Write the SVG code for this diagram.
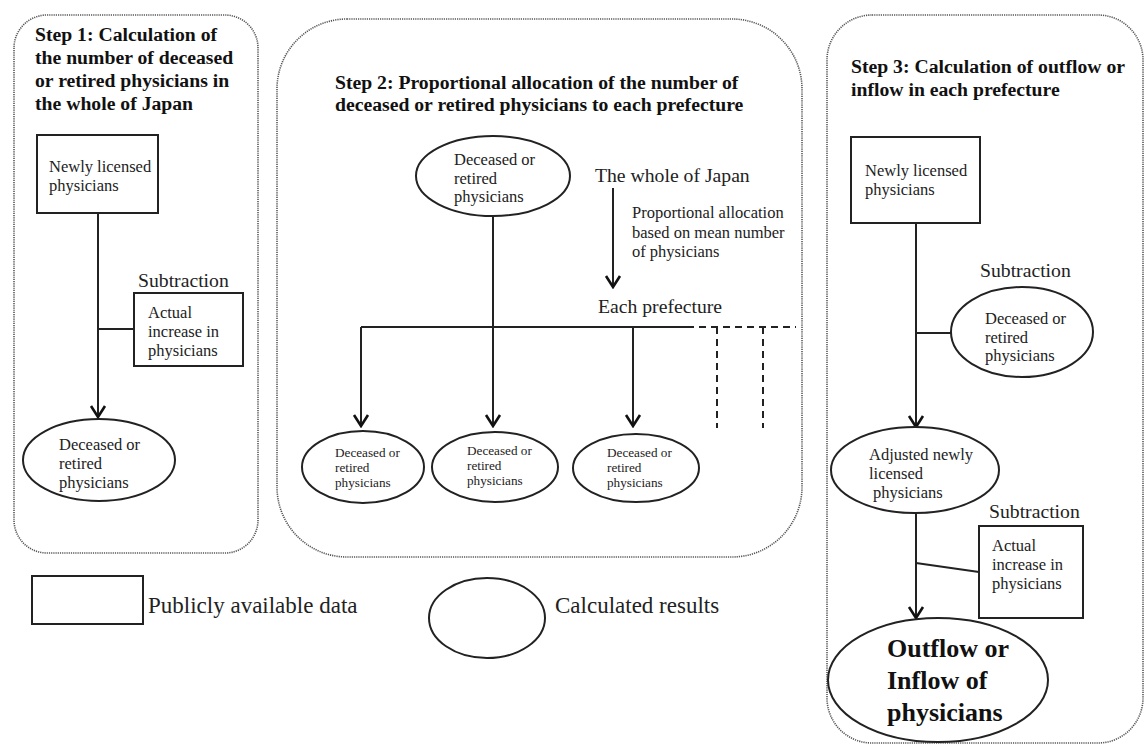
<svg xmlns="http://www.w3.org/2000/svg" width="1145" height="746" viewBox="0 0 1145 746">
<style>
.panel{fill:none;stroke:#555;stroke-width:1.6;stroke-dasharray:1.2 1}
.box{fill:#fff;stroke:#222;stroke-width:2}
.ell{fill:#fff;stroke:#222;stroke-width:2}
.ln{fill:none;stroke:#222;stroke-width:2}
.dash{fill:none;stroke:#222;stroke-width:2;stroke-dasharray:7 5}
.title{font-family:"Liberation Serif","Times New Roman",serif;font-weight:bold;font-size:19.7px;fill:#111}
.t{font-family:"Liberation Serif","Times New Roman",serif;font-size:16.5px;fill:#222}
.ts{font-family:"Liberation Serif","Times New Roman",serif;font-size:13.2px;fill:#222}
.tl{font-family:"Liberation Serif","Times New Roman",serif;font-size:19.7px;fill:#222}
.tg{font-family:"Liberation Serif","Times New Roman",serif;font-size:23px;fill:#222}
.tb{font-family:"Liberation Serif","Times New Roman",serif;font-weight:bold;font-size:26px;fill:#111}
</style>
<defs>
<marker id="arr" viewBox="-13 -9 15 18" refX="0" refY="0" markerWidth="15" markerHeight="18" markerUnits="userSpaceOnUse" orient="auto">
<path d="M-11,-7 L0,0 L-11,7" fill="none" stroke="#111" stroke-width="2.6"/>
</marker>
</defs>
<rect width="1145" height="746" fill="#fff"/>

<g id="panel1">
<rect class="panel" x="14" y="15" width="244" height="538" rx="33"/>
<text class="title" x="35" y="41">Step 1: Calculation of</text>
<text class="title" x="35" y="64">the number of deceased</text>
<text class="title" x="35" y="87">or retired physicians in</text>
<text class="title" x="35" y="110">the whole of Japan</text>
</g>
<g id="panel2">
<rect class="panel" x="277" y="19" width="525" height="538" rx="70"/>
<text class="title" x="335" y="89">Step 2: Proportional allocation of the number of</text>
<text class="title" x="335" y="111">deceased or retired physicians to each prefecture</text>
</g>
<g id="panel3">
<rect class="panel" x="827" y="15" width="316" height="728" rx="45"/>
<text class="title" x="851" y="73">Step 3: Calculation of outflow or</text>
<text class="title" x="851" y="96">inflow in each prefecture</text>
</g>

<g id="connectors">
<line class="ln" x1="98" y1="213" x2="98" y2="417" marker-end="url(#arr)"/>
<line class="ln" x1="98" y1="329" x2="134" y2="329"/>
<line class="ln" x1="493" y1="216" x2="493" y2="426" marker-end="url(#arr)"/>
<line class="ln" x1="361" y1="327" x2="687" y2="327"/>
<line class="ln" x1="361" y1="327" x2="361" y2="426" marker-end="url(#arr)"/>
<line class="ln" x1="633" y1="327" x2="633" y2="426" marker-end="url(#arr)"/>
<line class="dash" x1="687" y1="327" x2="796" y2="327"/>
<line class="dash" x1="717" y1="327" x2="717" y2="428"/>
<line class="dash" x1="763" y1="327" x2="763" y2="428"/>
<line class="ln" x1="613" y1="188" x2="613" y2="287" marker-end="url(#arr)"/>
<line class="ln" x1="916" y1="223" x2="916" y2="427" marker-end="url(#arr)"/>
<line class="ln" x1="916" y1="333" x2="951" y2="333"/>
<line class="ln" x1="916" y1="513" x2="916" y2="618" marker-end="url(#arr)"/>
<line class="ln" x1="916" y1="563" x2="979" y2="572"/>
</g>

<g id="s1-newly">
<rect class="box" x="37" y="135" width="121" height="78"/>
<text class="t" x="49" y="172">Newly licensed</text>
<text class="t" x="49" y="191">physicians</text>
</g>
<g id="s1-sub-label">
<text class="tl" x="138" y="287">Subtraction</text>
</g>
<g id="s1-actual">
<rect class="box" x="134" y="293" width="109" height="73"/>
<text class="t" x="148" y="318">Actual</text>
<text class="t" x="148" y="337">increase in</text>
<text class="t" x="148" y="356">physicians</text>
</g>
<g id="s1-deceased">
<ellipse class="ell" cx="99" cy="460" rx="76" ry="41"/>
<text class="t" x="59" y="450">Deceased or</text>
<text class="t" x="59" y="469">retired</text>
<text class="t" x="59" y="488">physicians</text>
</g>

<g id="s2-deceased">
<ellipse class="ell" cx="493" cy="176" rx="77" ry="40"/>
<text class="t" x="454" y="165">Deceased or</text>
<text class="t" x="454" y="184">retired</text>
<text class="t" x="454" y="202">physicians</text>
</g>
<g id="s2-japan">
<text class="tl" x="595" y="182">The whole of Japan</text>
<text class="t" x="632" y="218">Proportional allocation</text>
<text class="t" x="632" y="238">based on mean number</text>
<text class="t" x="632" y="257">of physicians</text>
</g>
<g id="s2-prefecture">
<text class="tl" x="598" y="313">Each prefecture</text>
</g>
<g id="s2-pref1">
<ellipse class="ell" cx="363" cy="467" rx="61" ry="36"/>
<text class="ts" x="335" y="457">Deceased or</text>
<text class="ts" x="335" y="472">retired</text>
<text class="ts" x="335" y="487">physicians</text>
</g>
<g id="s2-pref2">
<ellipse class="ell" cx="495" cy="467" rx="63" ry="35"/>
<text class="ts" x="467" y="455">Deceased or</text>
<text class="ts" x="467" y="470">retired</text>
<text class="ts" x="467" y="485">physicians</text>
</g>
<g id="s2-pref3">
<ellipse class="ell" cx="636" cy="468" rx="63" ry="34"/>
<text class="ts" x="607" y="457">Deceased or</text>
<text class="ts" x="607" y="472">retired</text>
<text class="ts" x="607" y="487">physicians</text>
</g>

<g id="s3-newly">
<rect class="box" x="851" y="137" width="129" height="86"/>
<text class="t" x="865" y="176">Newly licensed</text>
<text class="t" x="865" y="195">physicians</text>
</g>
<g id="s3-sub-label1">
<text class="tl" x="980" y="277">Subtraction</text>
</g>
<g id="s3-deceased">
<ellipse class="ell" cx="1022" cy="332" rx="71" ry="45"/>
<text class="t" x="985" y="324">Deceased or</text>
<text class="t" x="985" y="343">retired</text>
<text class="t" x="985" y="361">physicians</text>
</g>
<g id="s3-adjusted">
<ellipse class="ell" cx="915" cy="470" rx="84" ry="43"/>
<text class="t" x="869" y="460">Adjusted newly</text>
<text class="t" x="869" y="479">licensed</text>
<text class="t" x="873" y="498">physicians</text>
</g>
<g id="s3-sub-label2">
<text class="tl" x="989" y="518">Subtraction</text>
</g>
<g id="s3-actual">
<rect class="box" x="979" y="526" width="104" height="92"/>
<text class="t" x="992" y="551">Actual</text>
<text class="t" x="992" y="570">increase in</text>
<text class="t" x="992" y="589">physicians</text>
</g>
<g id="s3-outflow">
<ellipse class="ell" cx="938" cy="680" rx="110" ry="62"/>
<text class="tb" x="887" y="657">Outflow or</text>
<text class="tb" x="887" y="689">Inflow of</text>
<text class="tb" x="887" y="721">physicians</text>
</g>

<g id="legend-data">
<rect class="box" x="32" y="576" width="111" height="48"/>
<text class="tg" x="148" y="613">Publicly available data</text>
</g>
<g id="legend-calc">
<ellipse class="ell" cx="487" cy="618" rx="58" ry="40"/>
<text class="tg" x="555" y="613">Calculated results</text>
</g>
</svg>
